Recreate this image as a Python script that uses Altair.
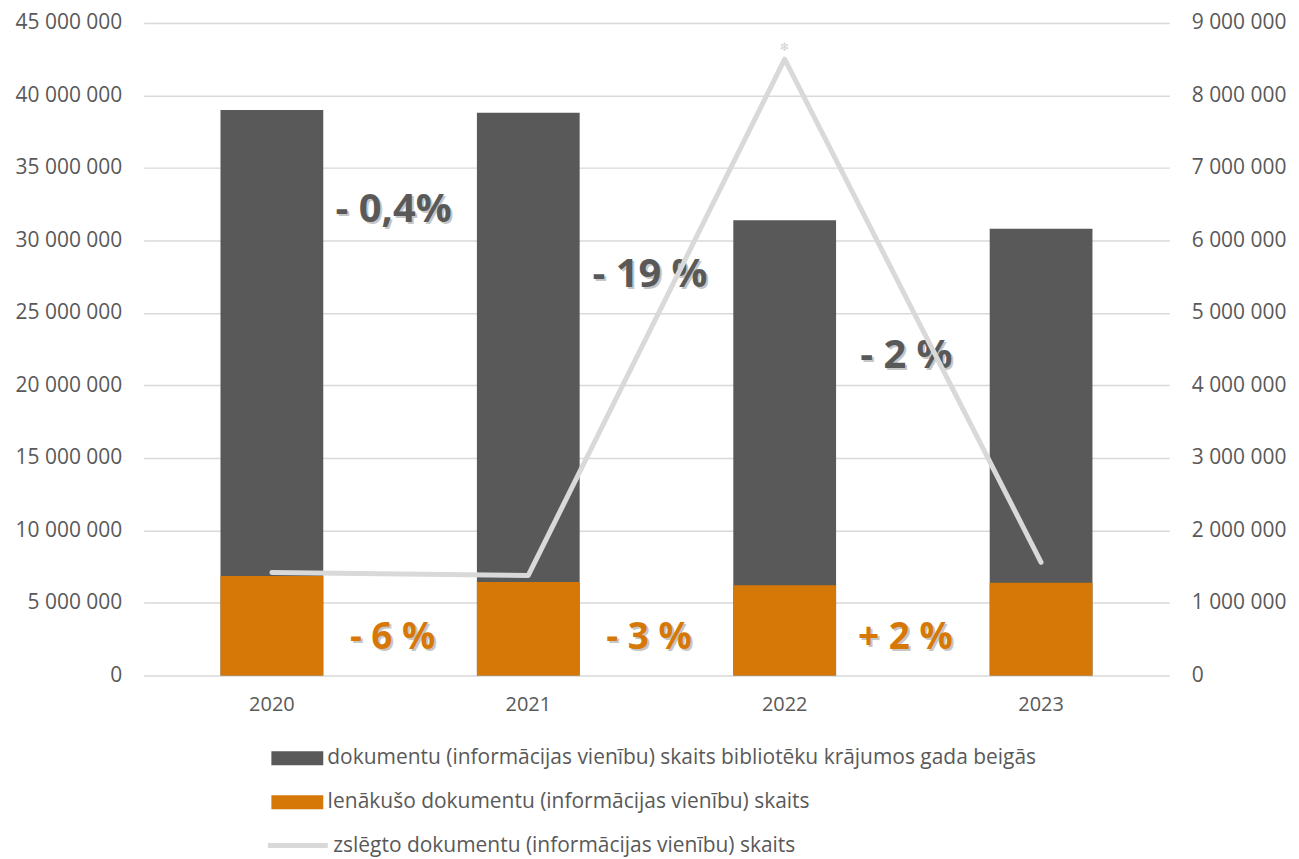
import altair as alt
import pandas as pd

# ---- data ----
years = ["2020", "2021", "2022", "2023"]
total_docs = [39_000_000, 38_800_000, 31_400_000, 30_800_000]
incoming_docs = [6_850_000, 6_440_000, 6_220_000, 6_400_000]
removed_docs = [1_420_000, 1_380_000, 8_500_000, 1_560_000]

series_total = "dokumentu (informācijas vienību) skaits bibliotēku krājumos gada beigās"
series_incoming = "Ienākušo dokumentu (informācijas vienību) skaits"
series_removed = "zslēgto dokumentu (informācijas vienību) skaits"

total_change_labels = ["- 0,4%", "- 19 %", "- 2 %"]
total_label_y = [32_100_000, 27_600_000, 22_000_000]
incoming_change_labels = ["- 6 %", "- 3 %", "+ 2 %"]
incoming_label_y = [2_600_000, 2_600_000, 2_600_000]
peak_marker = "❄"

left_ticks = [0, 5_000_000, 10_000_000, 15_000_000, 20_000_000, 25_000_000,
              30_000_000, 35_000_000, 40_000_000, 45_000_000]
right_ticks = [0, 1_000_000, 2_000_000, 3_000_000, 4_000_000, 5_000_000,
               6_000_000, 7_000_000, 8_000_000, 9_000_000]

# ---- tables ----
bars_df = pd.DataFrame({
    "year": years + years,
    "value": total_docs + incoming_docs,
    "series": [series_total] * 4 + [series_incoming] * 4,
})
total_lbl_df = pd.DataFrame({"year": years[:3], "label": total_change_labels, "value": total_label_y})
inc_lbl_df = pd.DataFrame({"year": years[:3], "label": incoming_change_labels, "value": incoming_label_y})
line_df = pd.DataFrame({"year": years, "value": removed_docs, "series": [series_removed] * 4})
peak_df = pd.DataFrame({"year": [years[2]], "value": [removed_docs[2]], "label": [peak_marker]})

FONT = "Open Sans"
TXT = "#595959"
GRAY = "#595959"
ORANGE = "#d67807"
LINE = "#d9d9d9"
num_expr = "replace(format(datum.value, ','), regexp(',', 'g'), ' ')"

x_enc = alt.X(
    "year:N",
    sort=years,
    scale=alt.Scale(domain=years, paddingInner=0.6, paddingOuter=0.3),
    axis=alt.Axis(title=None, labelAngle=0, domain=False, ticks=False, labelPadding=19,
                  labelFontSize=20, labelColor=TXT, labelFont=FONT),
)

y_left = alt.Y(
    "value:Q",
    scale=alt.Scale(domain=[0, 45_000_000], nice=False),
    axis=alt.Axis(title=None, values=left_ticks, labelExpr=num_expr, domain=False, ticks=False,
                  labelPadding=22, gridColor="#d9d9d9", gridWidth=1.5, labelFontSize=21,
                  labelColor=TXT, labelFont=FONT),
)

color_enc = alt.Color(
    "series:N",
    scale=alt.Scale(domain=[series_total, series_incoming], range=[GRAY, ORANGE]),
    legend=alt.Legend(title=None, orient="none", legendX=141, legendY=724,
                      symbolType="M-2,-0.54H2V0.54H-2Z", symbolSize=676, symbolStrokeWidth=0,
                      symbolOpacity=1, labelOffset=17, rowPadding=21, labelFontSize=21,
                      labelColor=TXT, labelFont=FONT, padding=0, labelLimit=1000),
)

gray_bars = alt.Chart(bars_df).transform_filter(
    alt.datum.series == series_total
).mark_bar(size=103).encode(x=x_enc, y=y_left, color=color_enc)

orange_bars = alt.Chart(bars_df).transform_filter(
    alt.datum.series == series_incoming
).mark_bar(size=103).encode(x=x_enc, y=y_left, color=color_enc)


def labels(df, colr, size, shift):
    shadow = alt.Chart(df).mark_text(
        font=FONT, fontWeight="bold", fontSize=size, color="#000000", opacity=0.22,
        dx=shift + 2, dy=2,
    ).encode(x=x_enc, y=y_left, text="label:N")
    main = alt.Chart(df).mark_text(
        font=FONT, fontWeight="bold", fontSize=size, color=colr, dx=shift,
    ).encode(x=x_enc, y=y_left, text="label:N")
    return shadow + main


left = alt.layer(
    gray_bars, orange_bars,
    labels(total_lbl_df, GRAY, 40, 122),
    labels(inc_lbl_df, ORANGE, 37, 121),
)

y_right = alt.Y(
    "value:Q",
    scale=alt.Scale(domain=[0, 9_000_000], nice=False),
    axis=alt.Axis(title=None, orient="right", values=right_ticks, labelExpr=num_expr, grid=False,
                  domain=False, ticks=False, labelPadding=22, labelFontSize=21, labelColor=TXT,
                  labelFont=FONT),
)

line = alt.Chart(line_df).mark_line(strokeWidth=5, strokeCap="round", strokeJoin="round").encode(
    x=x_enc,
    y=y_right,
    stroke=alt.Stroke(
        "series:N",
        scale=alt.Scale(domain=[series_removed], range=[LINE]),
        legend=alt.Legend(title=None, orient="none", legendX=144, legendY=814,
                          symbolType="M-6,0H6", symbolSize=100, symbolStrokeWidth=5,
                          labelOffset=25, labelFontSize=21, labelColor=TXT, labelFont=FONT,
                          padding=0, labelLimit=1000),
    ),
)

peak = alt.Chart(peak_df).mark_text(font="DejaVu Sans", fontSize=12, color="#cfcfcf", dy=-12).encode(
    x=x_enc, y=y_right, text="label:N",
)

right = alt.layer(line, peak)

chart = alt.layer(left, right).resolve_scale(y="independent").properties(
    width=1028, height=654,
    padding={"left": 7, "top": 3, "right": 5, "bottom": 6},
    background="white",
).configure_view(stroke=None)

chart.save("out.html", embed_options={"renderer": "svg", "actions": False})
